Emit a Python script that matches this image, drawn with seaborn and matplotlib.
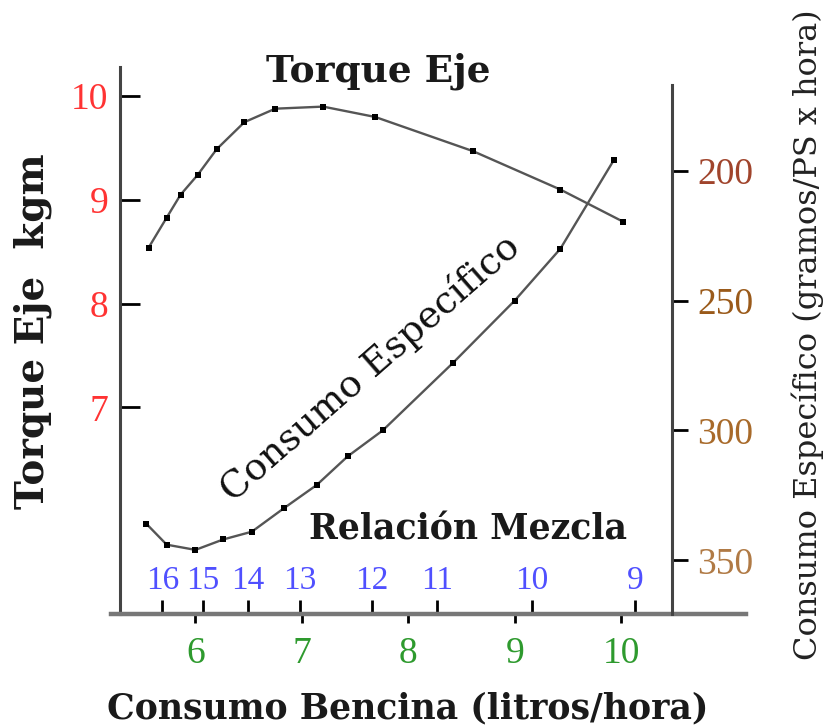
import matplotlib
matplotlib.use("Agg")
import matplotlib.pyplot as plt
import matplotlib.transforms as mtransforms
from matplotlib.ticker import FixedLocator
import seaborn as sns

# ---------------- data ----------------
torque_x = [5.56, 5.73, 5.86, 6.02, 6.20, 6.46, 6.75, 7.20, 7.69, 8.61, 9.43, 10.02]
torque_y = [8.54, 8.83, 9.05, 9.24, 9.49, 9.75, 9.88, 9.90, 9.80, 9.47, 9.10, 8.79]

consumo_x = [5.54, 5.73, 6.00, 6.26, 6.53, 6.83, 7.14, 7.43, 7.76, 8.42, 9.00, 9.43, 9.93]
consumo_y = [336, 344, 346, 342, 339, 330, 321, 310, 300, 274, 250, 230, 196]

mezcla_x = [5.69, 6.07, 6.49, 6.98, 7.66, 8.27, 9.16, 10.13]
mezcla_labels = ["16", "15", "14", "13", "12", "11", "10", "9"]

x_ticks = [6, 7, 8, 9, 10]
torque_ticks = [7, 8, 9, 10]
consumo_ticks = [200, 250, 300, 350]
consumo_tick_colors = ["#a0442c", "#9a5a1a", "#a86a2a", "#b07a45"]

# ---------------- style ----------------
sns.set_theme(style="white")
plt.rcParams["font.family"] = ["DejaVu Serif", "DejaVu Sans"]

W, H = 826, 725
fig = plt.figure(figsize=(W / 100, H / 100), dpi=100)
fig.patch.set_facecolor("white")
ax = fig.add_axes([120 / W, 1 - 614 / H, 552 / W, 547 / H])
ax2 = ax.twinx()

line_kw = dict(color="#555555", linewidth=1.7, marker="s", markersize=3.8,
               markerfacecolor="black", mec="black", mew=0)
sns.lineplot(x=torque_x, y=torque_y, ax=ax, sort=False, **line_kw)
sns.lineplot(x=consumo_x, y=consumo_y, ax=ax2, sort=False, **line_kw)

ax.set_xlim(5.291, 10.479)
ax.set_ylim(5.007, 10.282)
ax2.set_ylim(370.7, 160.0)

# spines
for s in ["top", "right"]:
    ax.spines[s].set_visible(False)
for s in ["top", "left", "bottom"]:
    ax2.spines[s].set_visible(False)
ax.spines["left"].set_color("#444444")
ax.spines["left"].set_linewidth(2.2)
ax2.spines["right"].set_color("#444444")
ax2.spines["right"].set_linewidth(2.2)
ax2.spines["right"].set_bounds(166.9, 370.7)
ax.spines["bottom"].set_color("#777777")
ax.spines["bottom"].set_linewidth(3.2)
ax.spines["bottom"].set_bounds(5.207, 11.17)
ax.spines["bottom"].set_clip_on(False)

serif_ticks = "Liberation Serif"

# x ticks (fuel consumption)
ax.set_xticks(x_ticks)
ax.set_xticklabels([str(v) for v in x_ticks], fontsize=27, family=serif_ticks)
ax.tick_params(axis="x", which="major", direction="out", length=6.5, width=2,
               color="black", pad=10, labelcolor="#2e9a2e", bottom=True)
# mixture-ratio ticks (pointing up into the plot)
ax.xaxis.remove_overlapping_locs = False
ax.xaxis.set_minor_locator(FixedLocator(mezcla_x))
ax.tick_params(axis="x", which="minor", direction="in", length=10, width=2,
               color="black", bottom=True, labelbottom=False)
trans = mtransforms.blended_transform_factory(ax.transData, ax.transAxes)
for xv, lab in zip(mezcla_x, mezcla_labels):
    ax.text(xv, 0.0603, lab, transform=trans, ha="center", va="center",
            fontsize=24, family=serif_ticks, color="#5050ff")

# left y ticks (torque)
ax.set_yticks(torque_ticks)
ax.set_yticklabels([str(v) for v in torque_ticks], fontsize=27, family=serif_ticks)
ax.tick_params(axis="y", direction="in", length=14.4, width=2, color="black",
               pad=8.6, labelcolor="#ff3333", left=True)

# right y ticks (specific consumption)
ax2.set_yticks(consumo_ticks)
ax2.set_yticklabels([str(v) for v in consumo_ticks], fontsize=27, family=serif_ticks)
ax2.tick_params(axis="y", direction="out", length=11.5, width=2, color="black",
                pad=6.5, right=True)
for t, c in zip(ax2.get_yticklabels(), consumo_tick_colors):
    t.set_color(c)

ax.grid(False)
ax2.grid(False)

# axis labels
ax.set_xlabel("Consumo Bencina (litros/hora)", fontsize=25, fontweight="bold",
              color="#1a1a1a")
ax.xaxis.label.set_va("baseline")
ax.xaxis.set_label_coords((408 - 120) / 552, (614 - 718) / 547)

ax.set_ylabel("Torque Eje  kgm", fontsize=28, fontweight="bold", color="#1a1a1a")
ax.yaxis.label.set_va("center")
ax.yaxis.set_label_coords((33 - 120) / 552, (614 - 331) / 547)

ax2.set_ylabel("Consumo Específico (gramos/PS x hora)", fontsize=23,
               color="#222222")
ax2.yaxis.label.set_va("center")
ax2.yaxis.set_label_coords((808 - 120) / 552, (614 - 335) / 547)

# annotations
fig.text(378 / W, 1 - 81 / H, "Torque Eje", ha="center", va="baseline",
         fontsize=27, fontweight="bold", color="#1a1a1a")
fig.text(468 / W, 1 - 539 / H, "Relación Mezcla", ha="center", va="baseline",
         fontsize=25, fontweight="bold", color="#1a1a1a")
fig.text(370 / W, 1 - 368 / H, "Consumo Específico", rotation=41.2,
         rotation_mode="anchor", ha="center", va="center", fontsize=27,
         color="#111111")

fig.savefig("out.png", dpi=100, facecolor="white")
